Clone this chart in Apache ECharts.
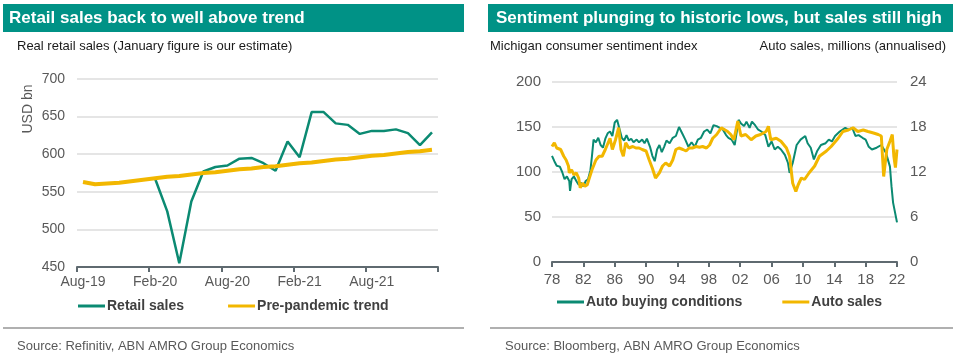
<!DOCTYPE html>
<html><head><meta charset="utf-8">
<script src="https://cdn.jsdelivr.net/npm/echarts@6/dist/echarts.min.js"></script>
<style>html,body{margin:0;padding:0;background:#fff}#c{width:956px;height:362px}</style>
</head><body><div id="c"></div>
<script>
// ---------- Left chart data ----------
const months = ["Aug-19","Sep-19","Oct-19","Nov-19","Dec-19","Jan-20","Feb-20","Mar-20","Apr-20","May-20","Jun-20","Jul-20","Aug-20","Sep-20","Oct-20","Nov-20","Dec-20","Jan-21","Feb-21","Mar-21","Apr-21","May-21","Jun-21","Jul-21","Aug-21","Sep-21","Oct-21","Nov-21","Dec-21","Jan-22"];
const retailSales = [null,null,null,null,null,null,567,524,455,537,577,583,585,594,595,588,578,617,596,656,656,641,639,627,631,631,633,628,612,629];
const prePandemicTrend = [563,560,561,562,564,566,568,570,571,573,575,576,578,580,581,583,584,586,588,589,591,593,594,596,598,599,601,603,604,606];

// ---------- Right chart data ----------
const sentYears = [1978.0,1978.3,1978.6,1979.0,1979.3,1979.6,1979.9,1980.2,1980.3,1980.5,1980.8,1981.1,1981.4,1981.7,1982.0,1982.3,1982.6,1982.9,1983.1,1983.3,1983.6,1983.9,1984.2,1984.5,1984.8,1985.1,1985.4,1985.7,1986.0,1986.3,1986.6,1986.9,1987.2,1987.5,1987.8,1988.1,1988.4,1988.8,1989.1,1989.5,1989.8,1990.1,1990.5,1990.8,1991.1,1991.4,1991.7,1992.0,1992.3,1992.6,1993.0,1993.4,1993.8,1994.2,1994.6,1995.0,1995.4,1995.8,1996.2,1996.6,1997.0,1997.4,1997.8,1998.2,1998.6,1999.0,1999.4,1999.8,2000.2,2000.5,2000.9,2001.3,2001.8,2002.1,2002.5,2002.8,2003.2,2003.5,2003.9,2004.3,2004.7,2005.2,2005.6,2006.0,2006.4,2006.8,2007.2,2007.7,2008.1,2008.3,2008.7,2009.2,2009.7,2010.3,2010.6,2011.0,2011.4,2011.8,2012.3,2012.9,2013.3,2013.7,2014.1,2014.7,2015.4,2015.8,2016.3,2016.7,2017.1,2017.6,2018.0,2018.4,2018.8,2019.4,2020.0,2020.6,2021.1,2021.3,2021.5,2022.0];
const sentVals = [118,112,107,106,100,92,95,90,79,92,95,90,86,88,84,90,92,102,118,136,133,138,130,127,137,143,145,140,155,158,148,138,135,141,135,137,133,136,133,136,132,137,128,118,112,125,130,122,128,135,132,138,140,150,143,136,128,133,128,136,138,145,147,143,152,151,149,147,141,138,136,130,158,154,151,156,149,156,152,147,145,141,128,134,125,128,125,119,110,99,110,130,136,140,132,127,114,123,130,132,136,134,140,145,149,147,149,140,141,138,136,128,125,127,130,121,106,84,66,44];
const autoYears = [1978.0,1978.3,1978.6,1979.1,1979.5,1979.8,1980.1,1980.2,1980.5,1980.8,1981.1,1981.4,1981.6,1981.9,1982.2,1982.5,1982.7,1983.1,1983.6,1984.0,1984.4,1984.8,1985.4,1985.7,1986.1,1986.5,1986.8,1987.1,1987.4,1987.8,1988.3,1988.7,1989.1,1989.5,1990.0,1990.4,1990.8,1991.2,1991.7,1992.1,1992.5,1993.0,1993.4,1993.8,1994.2,1994.7,1995.1,1995.5,1995.9,1996.4,1996.8,1997.2,1997.7,1998.1,1998.5,1999.0,1999.6,2000.4,2000.8,2001.2,2001.7,2002.1,2002.7,2003.4,2004.0,2004.6,2005.3,2005.6,2005.9,2006.6,2007.2,2007.9,2008.3,2008.7,2009.1,2009.4,2009.8,2010.2,2010.8,2011.5,2012.1,2013.0,2013.6,2014.5,2015.1,2015.8,2016.4,2017.0,2017.7,2018.3,2019.0,2019.6,2020.0,2020.3,2020.7,2021.1,2021.4,2021.6,2021.8,2022.0];
const autoVals = [15.4,15.9,15.2,15.0,14.1,13.6,12.8,11.9,12.3,11.6,11.9,11.2,9.9,10.5,10.1,10.3,11.0,12.3,13.6,14.1,14.1,15.0,16.5,15.0,16.3,17.9,15.0,14.1,15.9,15.2,15.4,15.2,15.2,15.0,14.8,13.6,12.5,11.2,11.9,12.8,13.2,12.8,13.6,15.0,15.2,15.0,14.8,15.2,15.2,15.4,15.3,15.4,15.2,15.6,16.5,17.0,17.9,17.4,17.0,16.3,18.8,16.8,17.0,16.3,16.8,17.0,17.4,18.1,16.3,16.5,16.1,15.2,14.1,10.5,9.4,10.3,11.2,11.0,11.9,12.8,14.1,14.8,15.4,16.5,17.4,17.6,17.9,17.4,17.6,17.4,17.2,17.0,16.8,11.4,15.0,16.1,17.0,14.1,12.6,15.0];

const FONT = '"Liberation Sans", Arial, sans-serif';
const GREEN = '#0b8a72';
const YELLOW = '#f2b700';
const TEAL = '#009286';
const AXIS = '#5f6a70';
const LABEL = '#595959';
const GRID = '#dcdcdc';

const chart = echarts.init(document.getElementById('c'));
const pair = (xs, ys) => xs.map((x, i) => [x, ys[i]]);

chart.setOption({
  animation: false,
  backgroundColor: '#fff',
  textStyle: { fontFamily: FONT },
  grid: [
    { left: 77, top: 79, width: 361, height: 188 },
    { left: 552, top: 82, width: 345, height: 180 }
  ],
  xAxis: [
    {
      gridIndex: 0, type: 'category', data: months, boundaryGap: true,
      axisLine: { lineStyle: { color: AXIS, width: 2 } },
      axisTick: { show: true, interval: 5, length: 5, lineStyle: { color: AXIS, width: 2 } },
      axisLabel: { interval: 5, color: LABEL, fontSize: 14, margin: 8, fontFamily: FONT },
      splitLine: { show: false }
    },
    {
      gridIndex: 1, type: 'value', min: 1978, max: 2022, interval: 4,
      axisLine: { show: true, lineStyle: { color: AXIS, width: 2 } },
      axisTick: { show: true, length: 5, lineStyle: { color: AXIS, width: 2 } },
      axisLabel: { color: LABEL, fontSize: 15, margin: 10, fontFamily: FONT,
        formatter: v => String(v % 100).padStart(2, '0') },
      splitLine: { show: false }
    }
  ],
  yAxis: [
    {
      gridIndex: 0, type: 'value', min: 450, max: 700, interval: 50,
      axisLine: { show: false }, axisTick: { show: false },
      axisLabel: { color: LABEL, fontSize: 14, margin: 12, fontFamily: FONT },
      splitLine: { lineStyle: { color: GRID, width: 1.5 } }
    },
    {
      gridIndex: 1, type: 'value', min: 0, max: 200, interval: 50,
      axisLine: { show: false }, axisTick: { show: false },
      axisLabel: { color: LABEL, fontSize: 15, margin: 11, fontFamily: FONT },
      splitLine: { lineStyle: { color: GRID, width: 1.5 } }
    },
    {
      gridIndex: 1, type: 'value', min: 0, max: 24, interval: 6, position: 'right',
      axisLine: { show: false }, axisTick: { show: false },
      axisLabel: { color: LABEL, fontSize: 15, margin: 13, fontFamily: FONT },
      splitLine: { show: false }
    }
  ],
  legend: [
    {
      data: ['Retail sales', 'Pre-pandemic trend'], left: 78, top: 299, padding: 0,
      icon: 'rect', itemWidth: 27, itemHeight: 3, itemGap: 44,
      textStyle: { fontFamily: FONT, fontSize: 14, fontWeight: 'bold', color: '#404040', padding: [0, 0, 0, -3] }
    },
    {
      data: ['Auto buying conditions', 'Auto sales'], left: 557, top: 295, padding: 0,
      icon: 'rect', itemWidth: 27, itemHeight: 3, itemGap: 40,
      textStyle: { fontFamily: FONT, fontSize: 14, fontWeight: 'bold', color: '#404040', padding: [0, 0, 0, -3] }
    }
  ],
  series: [
    { name: 'Retail sales', type: 'line', xAxisIndex: 0, yAxisIndex: 0, data: retailSales,
      symbol: 'none', lineStyle: { color: GREEN, width: 2.5 }, itemStyle: { color: GREEN }, z: 2 },
    { name: 'Pre-pandemic trend', type: 'line', xAxisIndex: 0, yAxisIndex: 0, data: prePandemicTrend,
      symbol: 'none', lineStyle: { color: YELLOW, width: 4 }, itemStyle: { color: YELLOW }, z: 3 },
    { name: 'Auto buying conditions', type: 'line', xAxisIndex: 1, yAxisIndex: 1, data: pair(sentYears, sentVals),
      symbol: 'none', lineStyle: { color: GREEN, width: 2 }, itemStyle: { color: GREEN }, z: 2 },
    { name: 'Auto sales', type: 'line', xAxisIndex: 1, yAxisIndex: 2, data: pair(autoYears, autoVals),
      symbol: 'none', lineStyle: { color: YELLOW, width: 3 }, itemStyle: { color: YELLOW }, z: 3 }
  ],
  graphic: [
    { type: 'rect', shape: { x: 3, y: 4, width: 461, height: 28 }, style: { fill: TEAL }, silent: true },
    { type: 'rect', shape: { x: 488, y: 4, width: 465, height: 28 }, style: { fill: TEAL }, silent: true },
    { type: 'text', x: 9, y: 18, style: { text: 'Retail sales back to well above trend', fill: '#fff',
      font: 'bold 17px ' + FONT, textVerticalAlign: 'middle' } },
    { type: 'text', x: 496, y: 18, style: { text: 'Sentiment plunging to historic lows, but sales still high', fill: '#fff',
      font: 'bold 17px ' + FONT, textVerticalAlign: 'middle' } },
    { type: 'text', x: 17, y: 46, style: { text: 'Real retail sales (January figure is our estimate)', fill: '#1a1a1a',
      font: '13px ' + FONT, textVerticalAlign: 'middle' } },
    { type: 'text', x: 490, y: 46, style: { text: 'Michigan consumer sentiment index', fill: '#1a1a1a',
      font: '13px ' + FONT, textVerticalAlign: 'middle' } },
    { type: 'text', x: 946, y: 46, style: { text: 'Auto sales, millions (annualised)', fill: '#1a1a1a',
      font: '13px ' + FONT, textAlign: 'right', textVerticalAlign: 'middle' } },
    { type: 'text', x: 28, y: 109, rotation: Math.PI / 2, style: { text: 'USD bn', fill: LABEL,
      font: '14px ' + FONT, textAlign: 'center', textVerticalAlign: 'middle' } },
    { type: 'rect', shape: { x: 3, y: 327, width: 461, height: 2 }, style: { fill: '#b0b0b0' }, silent: true },
    { type: 'rect', shape: { x: 490, y: 327, width: 463, height: 2 }, style: { fill: '#b0b0b0' }, silent: true },
    { type: 'text', x: 17, y: 346, style: { text: 'Source: Refinitiv, ABN AMRO Group Economics', fill: LABEL,
      font: '13px ' + FONT, textVerticalAlign: 'middle' } },
    { type: 'text', x: 505, y: 346, style: { text: 'Source: Bloomberg, ABN AMRO Group Economics', fill: LABEL,
      font: '13px ' + FONT, textVerticalAlign: 'middle' } }
  ]
});
</script>
</body></html>
